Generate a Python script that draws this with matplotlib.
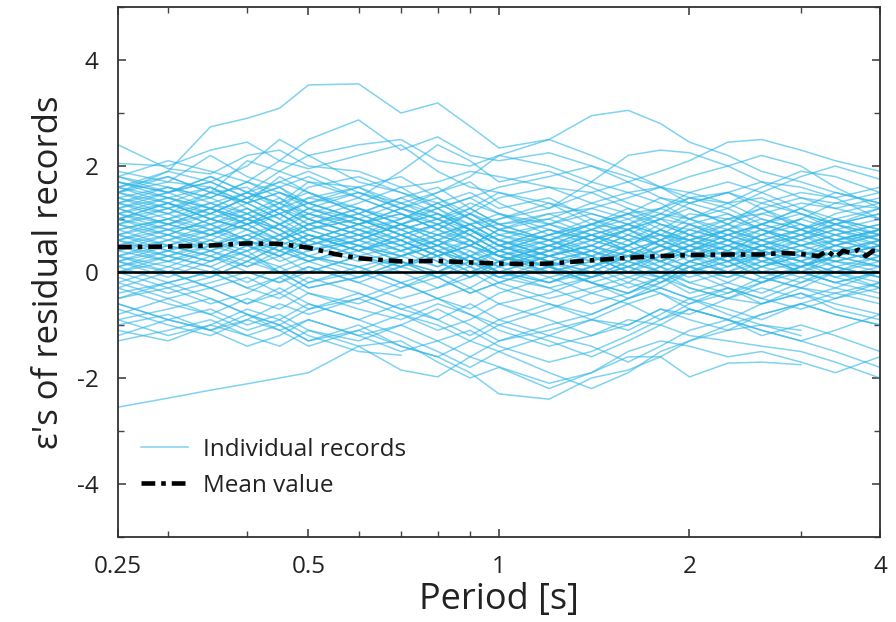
import numpy as np
import matplotlib
matplotlib.use("Agg")
import matplotlib.pyplot as plt
from matplotlib.ticker import FixedLocator, NullFormatter

plt.rcParams['font.family'] = ['Open Sans', 'DejaVu Sans']
plt.rcParams['axes.unicode_minus'] = False

nan = np.nan
periods = [0.25, 0.3, 0.35, 0.4, 0.45, 0.5, 0.6, 0.7, 0.8, 0.9, 1.0,
           1.2, 1.4, 1.6, 1.8, 2.0, 2.3, 2.6, 3.0, 3.4, 4.0]

records_high = [
    [1.5, 1.9, 2.74, 2.9, 3.09, 3.53, 3.55, 3.0, 3.19, 2.75, 2.34, 2.5, 2.2, 1.9, 1.6, 1.4, 1.5, 1.3, 1.1, 0.9, 0.7],
    [1.2, 1.5, 1.7, 2.0, 2.5, 2.2, 2.4, 2.5, 2.1, 2.0, 2.2, 2.5, 2.95, 3.05, 2.8, 2.45, 2.2, 1.9, 1.7, 1.5, 1.3],
    [2.4, 1.95, 1.85, 2.2, 2.3, 2.0, 1.9, 1.6, 1.7, 1.9, 1.8, 1.6, 1.5, 1.7, 1.9, 2.1, 2.45, 2.5, 2.3, 2.1, 1.9],
    [2.05, 2.0, 2.3, 2.45, 2.1, 2.5, 2.87, 2.3, 2.55, 2.2, 2.1, 2.25, 2.0, 1.8, 1.6, 1.5, 1.3, 1.6, 1.9, 1.8, 1.5],
    [1.8, 2.1, 1.9, 1.7, 2.1, 1.95, 2.2, 2.4, 1.9, 1.6, 1.5, 1.2, 1.7, 2.2, 2.3, 2.25, 2.0, 1.7, 1.4, 1.3, 1.2],
    [1.9, 1.7, 2.2, 1.8, 1.6, 1.8, 1.4, 1.9, 2.4, 2.1, 1.7, 1.9, 1.6, 1.3, 1.1, 1.0, 1.2, 1.5, 1.8, 2.0, 1.75],
    [1.6, 1.8, 1.5, 2.1, 1.9, 1.7, 1.6, 1.3, 1.5, 1.8, 2.2, 2.0, 1.7, 1.5, 1.6, 1.8, 2.0, 2.2, 2.0, 1.6, 1.2],
    [1.7, 1.5, 1.8, 1.5, 1.9, 2.2, 1.7, 1.5, 1.2, 1.4, 1.6, 1.8, 2.0, 1.7, 1.4, 1.3, 1.5, 1.7, 1.6, 1.4, 1.0],
]

records_upper = [
    [1.8, 1.6, 1.4, 1.7, 1.5, 1.3, 1.6, 1.2, 1.0, 1.3, 1.1, 0.8, 0.6, 0.9, 1.2, 1.4, 1.3, 1.0, 0.8, 1.1, 1.3],
    [1.5, 1.7, 1.6, 1.3, 1.8, 1.5, 1.1, 1.4, 1.6, 1.2, 0.9, 1.0, 1.3, 1.5, 1.3, 1.0, 0.7, 0.9, 1.2, 1.0, 0.8],
    [1.3, 1.1, 1.5, 1.6, 1.2, 1.6, 1.8, 1.5, 1.3, 1.0, 0.8, 1.1, 1.2, 1.0, 0.7, 0.6, 0.9, 1.3, 1.5, 1.4, 1.6],
    [1.1, 1.4, 1.2, 1.0, 1.3, 1.7, 1.4, 1.1, 0.8, 1.1, 1.4, 1.6, 1.3, 1.1, 1.2, 1.5, 1.7, 1.5, 1.2, 0.9, 0.6],
    [1.6, 1.3, 1.1, 1.4, 1.6, 1.2, 0.9, 1.2, 1.5, 1.7, 1.3, 0.9, 0.7, 0.5, 0.8, 1.1, 1.0, 0.8, 0.6, 0.9, 1.1],
    [0.9, 1.2, 1.5, 1.3, 1.0, 1.4, 1.6, 1.8, 1.4, 1.0, 0.7, 0.5, 0.8, 1.1, 1.4, 1.2, 0.9, 0.7, 1.0, 1.3, 1.5],
    [1.4, 1.6, 1.3, 1.5, 1.2, 0.9, 1.2, 1.0, 1.3, 1.5, 1.2, 1.4, 1.0, 0.7, 0.5, 0.7, 1.0, 1.2, 0.9, 0.7, 0.9],
    [1.2, 0.9, 1.1, 1.4, 1.7, 1.5, 1.2, 0.9, 1.1, 0.8, 0.6, 0.9, 1.2, 1.4, 1.6, 1.3, 1.1, 0.8, 0.5, 0.6, 0.8],
    [1.0, 1.3, 1.0, 0.8, 1.1, 1.3, 1.0, 1.3, 1.1, 0.9, 1.0, 1.2, 1.5, 1.2, 0.9, 0.8, 1.0, 1.1, 1.3, 1.2, 1.4],
    [1.7, 1.4, 1.2, 1.0, 0.8, 1.1, 1.4, 1.1, 0.9, 1.2, 1.5, 1.3, 0.9, 0.8, 1.0, 0.9, 0.6, 0.4, 0.7, 1.0, 0.7],
    [0.8, 1.0, 1.3, 1.1, 1.4, 1.0, 0.7, 1.0, 1.2, 1.4, 1.1, 0.7, 0.9, 1.2, 1.0, 0.7, 0.5, 0.7, 1.0, nan, nan],
    [1.3, 1.5, 1.8, 1.5, 1.3, 1.0, 1.3, 1.6, 1.2, 0.8, 0.9, 1.1, 0.8, 0.6, 0.7, 1.0, 1.3, 1.4, 1.1, 0.8, 0.5],
    [1.1, 0.8, 0.9, 1.2, 0.9, 1.2, 1.5, 1.3, 1.0, 1.2, 0.9, 0.6, 0.4, 0.7, 1.0, 1.3, 1.5, 1.2, 0.8, 0.6, 0.7],
    [1.5, 1.2, 0.9, 1.1, 1.3, 1.5, 1.1, 0.8, 1.0, 0.7, 1.0, 1.3, 1.1, 0.9, 1.1, 1.4, 1.2, 0.9, 1.2, 1.5, 1.3],
    [0.9, 1.1, 0.8, 1.0, 1.2, 0.9, 0.6, 0.9, 0.7, 0.5, 0.8, 0.5, 0.3, 0.6, 0.9, 0.7, 0.4, 0.6, 0.8, 0.6, 0.4],
    [1.4, 1.1, 1.3, 1.0, 0.7, 0.9, 1.2, 0.9, 0.7, 0.9, 0.6, 0.3, 0.5, 0.8, 0.5, 0.2, 0.4, 0.7, 0.5, 0.3, 0.5],
    [0.6, 0.3, 0.6, 0.9, 1.2, 1.0, 0.7, 0.5, 0.8, 1.1, 0.8, 0.6, 0.9, 0.6, 0.3, 0.5, 0.8, 0.6, 0.3, 0.5, 0.7],
    [1.1, 1.3, 1.0, 0.8, 0.5, 0.3, 0.6, 0.9, 1.1, 0.8, 0.5, 0.7, 1.0, 0.8, 0.5, 0.3, 0.6, 0.9, 0.7, 0.4, 0.2],
    [1.6, 1.4, 1.6, 1.2, 0.9, 1.1, 0.8, 0.5, 0.7, 0.5, 0.2, 0.4, 0.7, 0.9, 0.7, 0.4, 0.2, 0.4, 0.2, -0.1, -0.3],
    [0.7, 1.0, 1.2, 1.5, 1.3, 1.1, 0.9, 1.1, 0.8, 0.6, 0.3, 0.1, 0.3, 0.1, 0.4, 0.6, 0.4, 0.1, 0.4, 0.6, 0.8],
    [0.5, 0.8, 1.1, 1.4, 1.1, 0.8, 1.0, 0.7, 0.9, 0.7, 0.4, 0.7, 0.4, 0.2, 0.0, 0.2, 0.0, 0.2, 0.4, 0.2, 0.4],
    [1.5, 1.8, 1.5, 1.3, 1.5, 1.3, 1.0, 0.7, 0.5, 0.8, 0.5, 0.3, 0.1, 0.4, 0.2, 0.5, 0.7, 0.9, 0.7, 0.9, 1.2],
    [1.2, 1.4, 1.1, 0.9, 1.2, 1.4, 1.2, 0.9, 0.6, 0.9, 1.1, 0.9, 0.6, 0.4, 0.6, 0.9, 1.1, 0.8, 0.5, 0.7, 0.9],
    [1.5, 1.3, 1.0, 1.2, 0.9, 0.6, 0.9, 1.2, 1.0, 0.7, 0.4, 0.6, 0.3, 0.5, 0.8, 0.5, 0.2, 0.5, 0.8, 1.0, 0.8],
    [1.7, 1.5, 1.2, 0.9, 1.1, 0.8, 1.1, 1.4, 1.1, 0.8, 0.5, 0.2, 0.4, 0.2, 0.5, 0.8, 0.6, 0.4, 0.2, 0.4, 0.6],
    [1.0, 1.3, 1.6, 1.3, 1.0, 0.7, 0.4, 0.6, 0.3, 0.5, 0.8, 1.0, 0.7, 0.4, 0.2, 0.0, 0.3, 0.6, 0.4, 0.1, -0.1],
    [1.3, 1.6, 1.4, 1.7, 1.4, 1.1, 0.8, 1.0, 1.3, 1.0, 0.7, 0.9, 1.1, 0.9, 0.6, 0.4, 0.6, 0.8, 1.0, 0.8, 0.6],
    [0.9, 0.7, 1.0, 1.3, 1.5, 1.2, 1.0, 0.7, 0.4, 0.2, 0.4, 0.7, 0.9, 1.1, 0.8, 0.6, 0.8, 1.1, 0.9, 0.6, 0.8],
    [1.4, 1.2, 1.4, 1.1, 0.8, 0.5, 0.7, 0.4, 0.6, 0.3, 0.0, 0.3, 0.5, 0.3, 0.0, -0.2, -0.4, -0.2, 0.1, 0.3, 0.1],
    [1.1, 0.9, 1.2, 1.5, 1.7, 1.9, 1.5, 1.2, 0.9, 1.1, 0.8, 0.6, 0.8, 1.0, 1.2, 1.0, 0.8, 0.5, 0.3, nan, nan],
    [1.8, 1.5, 1.7, 1.4, 1.6, 1.3, 1.0, 0.8, 1.0, 0.8, 0.5, 0.8, 0.6, 0.8, 1.0, 1.2, 0.9, 0.6, 0.8, 1.0, 1.2],
    [1.6, 1.9, 1.7, 1.4, 1.1, 1.3, 1.5, 1.2, 1.4, 1.1, 0.9, 0.6, 0.9, 1.1, 0.9, 0.7, 0.9, 1.2, 1.4, 1.2, 1.0],
]

records_mid = [
    [0.6, 0.9, 0.7, 1.0, 0.8, 0.5, 0.8, 0.6, 0.3, 0.5, 0.7, 0.4, 0.2, 0.5, 0.7, 0.6, 0.3, 0.5, 0.7, 0.5, 0.3],
    [0.9, 0.6, 0.8, 0.5, 0.7, 1.0, 0.7, 0.4, 0.6, 0.8, 0.5, 0.2, 0.4, 0.7, 0.5, 0.3, 0.5, 0.8, 0.6, 0.4, 0.6],
    [0.4, 0.7, 1.0, 0.8, 0.5, 0.7, 0.4, 0.6, 0.9, 0.6, 0.3, 0.5, 0.7, 0.4, 0.2, 0.4, 0.7, 0.5, 0.3, 0.5, 0.8],
    [0.7, 0.5, 0.3, 0.6, 0.9, 0.6, 0.3, 0.1, 0.4, 0.2, 0.0, 0.3, 0.6, 0.8, 0.6, 0.4, 0.2, 0.3, 0.5, 0.7, 0.4],
    [1.0, 0.8, 0.6, 0.4, 0.6, 0.9, 1.1, 0.8, 0.5, 0.3, 0.5, 0.8, 0.5, 0.3, 0.4, 0.6, 0.8, 0.6, 0.4, 0.2, 0.1],
    [0.3, 0.5, 0.8, 1.1, 0.8, 0.5, 0.2, 0.4, 0.7, 0.9, 0.6, 0.3, 0.1, 0.3, 0.6, 0.8, 0.6, 0.4, 0.6, 0.8, 1.0],
    [0.5, 0.3, 0.5, 0.7, 0.4, 0.2, 0.5, 0.8, 0.5, 0.2, 0.0, -0.2, 0.1, 0.4, 0.2, 0.0, 0.2, 0.5, 0.3, 0.1, 0.3],
    [0.8, 1.0, 0.7, 0.5, 0.3, 0.6, 0.9, 0.6, 0.3, 0.0, 0.2, 0.5, 0.3, 0.0, -0.1, 0.2, 0.4, 0.2, 0.0, 0.3, 0.5],
    [0.2, 0.4, 0.6, 0.3, 0.6, 0.8, 0.5, 0.2, 0.0, 0.3, 0.6, 0.4, 0.7, 0.9, 0.7, 0.5, 0.3, 0.1, 0.3, 0.6, 0.4],
    [0.6, 0.4, 0.2, 0.5, 0.2, 0.4, 0.7, 0.9, 0.6, 0.4, 0.1, 0.3, 0.5, 0.2, 0.4, 0.7, 0.5, 0.2, 0.1, 0.4, 0.2],
    [1.2, 0.9, 0.7, 0.9, 1.1, 0.8, 0.5, 0.3, 0.5, 0.7, 0.4, 0.1, -0.1, 0.2, 0.5, 0.3, 0.1, 0.3, 0.6, 0.8, 0.6],
    [0.1, 0.3, 0.1, 0.4, 0.7, 0.4, 0.6, 0.3, 0.1, 0.4, 0.2, 0.0, 0.2, 0.5, 0.8, 0.6, 0.4, 0.7, 0.9, 0.7, 0.5],
    [0.7, 0.9, 1.2, 0.9, 0.6, 0.3, 0.1, 0.3, 0.6, 0.3, 0.1, 0.4, 0.6, 0.4, 0.1, -0.1, 0.1, 0.4, 0.2, 0.0, -0.2],
    [0.4, 0.2, 0.4, 0.1, 0.3, 0.6, 0.3, 0.5, 0.2, -0.1, 0.2, 0.5, 0.8, 0.6, 0.3, 0.5, 0.8, 1.0, 0.8, 0.5, 0.3],
    [1.0, 1.2, 0.9, 0.6, 0.4, 0.7, 0.5, 0.2, -0.1, 0.1, 0.4, 0.2, -0.1, 0.1, 0.3, 0.1, -0.1, 0.2, 0.4, nan, nan],
    [0.5, 0.7, 0.4, 0.2, 0.5, 0.3, 0.0, 0.3, 0.5, 0.2, -0.1, 0.1, 0.4, 0.1, -0.1, 0.2, 0.5, 0.3, 0.0, 0.2, 0.4],
    [0.0, 0.2, 0.5, 0.7, 0.5, 0.2, 0.4, 0.7, 0.4, 0.6, 0.3, 0.6, 0.3, 0.0, 0.2, 0.4, 0.2, -0.1, 0.1, 0.3, 0.1],
    [1.3, 1.0, 0.8, 0.6, 0.9, 0.7, 0.4, 0.7, 0.9, 0.6, 0.3, 0.0, 0.2, 0.4, 0.6, 0.9, 0.7, 0.5, 0.7, 0.9, 1.1],
    [0.3, 0.6, 0.4, 0.7, 0.9, 1.2, 0.9, 0.6, 0.3, 0.5, 0.3, 0.0, -0.2, 0.0, 0.3, 0.1, -0.1, 0.1, 0.3, 0.2, 0.0],
    [0.2, -0.1, 0.2, 0.5, 0.3, 0.0, 0.3, 0.1, 0.3, 0.6, 0.3, 0.1, 0.3, 0.0, -0.2, 0.1, 0.3, 0.0, -0.2, 0.0, 0.3],
    [-0.3, 0.0, 0.3, 0.1, 0.4, 0.2, -0.1, 0.1, 0.4, 0.1, -0.2, 0.1, -0.2, -0.4, -0.2, 0.1, -0.2, -0.4, -0.1, 0.1, -0.1],
    [1.0, 0.7, 0.5, 0.8, 0.6, 0.8, 1.0, 0.7, 0.4, 0.1, -0.1, 0.2, 0.0, 0.3, 0.5, 0.3, 0.5, 0.3, 0.0, -0.2, 0.0],
    [0.8, 0.5, 0.7, 1.0, 0.7, 0.4, 0.6, 0.9, 1.2, 0.9, 0.6, 0.3, 0.5, 0.8, 1.1, 0.9, 0.6, 0.3, 0.1, 0.3, 0.5],
    [0.4, 0.6, 0.9, 0.6, 0.3, 0.5, 0.8, 0.5, 0.2, -0.1, 0.1, -0.2, 0.0, 0.3, 0.1, -0.2, 0.0, 0.3, 0.5, 0.3, 0.6],
    [0.0, -0.3, -0.1, 0.2, 0.5, 0.7, 0.4, 0.1, 0.3, 0.0, 0.2, 0.5, 0.2, -0.1, 0.1, 0.4, 0.6, 0.4, 0.1, -0.1, 0.1],
    [0.6, 0.8, 0.5, 0.3, 0.0, 0.2, 0.5, 0.3, 0.5, 0.8, 0.5, 0.2, 0.0, -0.3, -0.1, 0.2, 0.0, -0.2, 0.1, 0.3, 0.5],
    [0.2, 0.5, 0.3, 0.0, -0.2, 0.1, -0.2, 0.1, -0.1, 0.2, 0.4, 0.1, -0.2, -0.4, -0.1, 0.1, 0.3, 0.5, 0.2, 0.0, -0.3],
    [0.7, 0.4, 0.2, 0.4, 0.0, -0.3, -0.1, 0.2, 0.0, 0.3, 0.1, 0.4, 0.7, 0.5, 0.2, 0.4, 0.7, 0.9, 1.1, 0.9, 0.7],
    [0.3, 0.1, 0.4, 0.6, 0.4, 0.6, 0.9, 1.1, 0.8, 0.5, 0.3, 0.1, -0.1, 0.1, 0.3, 0.5, 0.3, 0.0, 0.2, 0.5, 0.7],
    [0.1, 0.4, 0.7, 0.9, 0.6, 0.9, 0.6, 0.4, 0.1, 0.3, 0.0, -0.2, 0.1, 0.3, 0.6, 0.4, 0.1, 0.3, 0.0, -0.2, 0.0],
]

records_lower = [
    [-0.2, 0.1, -0.1, 0.2, 0.0, -0.3, -0.1, 0.2, -0.1, -0.4, -0.2, 0.1, -0.2, -0.5, -0.3, 0.0, 0.2, -0.1, -0.3, 0.0, 0.2],
    [0.1, -0.2, 0.0, -0.3, -0.5, -0.2, 0.1, -0.2, -0.5, -0.3, 0.0, -0.3, -0.6, -0.4, -0.1, -0.3, -0.5, -0.2, 0.0, -0.2, -0.4],
    [-0.5, -0.3, -0.6, -0.4, -0.1, 0.1, -0.2, -0.5, -0.3, 0.0, -0.3, -0.6, -0.8, -0.5, -0.2, 0.0, -0.3, -0.5, -0.2, 0.1, -0.1],
    [-0.3, -0.6, -0.8, -0.5, -0.7, -0.4, -0.7, -0.9, -0.6, -0.8, -1.0, -0.7, -0.4, -0.6, -0.9, -0.6, -0.3, -0.5, -0.7, -0.5, -0.2],
    [-0.8, -0.5, -0.3, -0.6, -0.3, -0.6, -0.9, -0.6, -0.9, -1.2, -0.9, -0.6, -0.9, -1.1, -0.8, -0.5, -0.7, -0.9, -0.6, -0.4, -0.6],
    [0.2, 0.0, -0.3, -0.1, -0.4, -0.7, -0.5, -0.2, -0.5, -0.7, -0.4, -0.1, 0.1, -0.2, -0.4, -0.7, -0.9, -0.6, -0.4, -0.7, -0.9],
    [-1.0, -0.8, -1.1, -0.9, -0.6, -0.8, -0.5, -0.8, -1.1, -0.9, -0.6, -0.9, -1.2, -1.0, -0.7, -0.9, -1.1, -0.8, -0.6, -0.8, -1.0],
    [-0.6, -0.9, -0.7, -1.0, -0.8, -1.1, -1.3, -1.0, -0.7, -1.0, -1.3, -1.0, -0.8, -0.5, -0.3, -0.5, -0.8, -1.0, -1.2, nan, nan],
    [-0.1, -0.4, -0.2, 0.0, -0.2, 0.0, 0.3, 0.0, -0.3, -0.1, 0.2, -0.1, -0.4, -0.2, 0.1, 0.3, 0.0, -0.2, 0.1, 0.4, 0.2],
    [-1.3, -1.1, -0.9, -1.2, -1.0, -1.3, -1.0, -1.4, -1.6, -1.3, -1.0, -1.3, -1.6, -1.3, -1.0, -0.7, -0.9, -1.2, -1.0, -1.2, -1.5],
    [-0.4, -0.2, -0.5, -0.8, -1.0, -0.7, -0.4, -0.7, -0.9, -0.6, -0.9, -1.2, -0.9, -0.6, -0.4, -0.6, -0.4, -0.1, -0.3, -0.5, -0.3],
    [-0.9, -1.2, -1.0, -0.7, -0.9, -1.2, -1.5, -1.57, nan, nan, nan, nan, nan, nan, nan, nan, nan, nan, nan, nan, nan],
    [0.0, 0.3, 0.1, -0.2, 0.1, 0.3, 0.1, -0.2, 0.0, -0.3, -0.6, -0.4, -0.1, 0.1, -0.1, -0.4, -0.2, 0.1, -0.1, -0.3, 0.0],
    [-0.7, -1.0, -1.2, -0.9, -1.1, -1.4, -1.1, -0.8, -1.0, -1.3, -1.5, -1.2, -1.4, -1.7, -1.4, -1.1, -0.9, -1.1, -1.3, -1.1, -0.8],
    [0.5, 0.2, 0.0, 0.3, 0.1, -0.2, 0.0, -0.3, -0.1, -0.4, -0.2, -0.5, -0.3, -0.1, -0.3, -0.5, -0.3, -0.6, -0.4, -0.6, -0.8],
    [-0.5, -0.2, 0.0, -0.3, -0.1, -0.4, -0.6, -0.3, 0.0, 0.2, -0.1, -0.3, -0.1, 0.2, 0.0, -0.3, -0.5, -0.3, -0.5, -0.3, -0.5],
]

records_low = [
    [-2.55, -2.38, -2.23, -2.11, -2.0, -1.9, -1.4, -1.85, -1.98, -1.6, -1.3, -1.1, -0.9, -1.0, -0.7, -0.8, -0.5, -0.6, -0.3, -0.4, -0.2],
    [-0.6, -0.9, -1.1, -0.8, -1.0, -1.3, -1.1, -1.4, -1.6, -1.9, -2.3, -2.4, -2.0, -1.85, -1.6, -1.3, -1.0, -0.8, -0.6, -0.8, -1.0],
    [-1.2, -0.9, -1.1, -1.4, -1.2, -0.9, -1.2, -1.5, -1.3, -1.6, -1.79, -2.1, -1.9, -1.6, -1.6, -1.98, -1.72, -1.7, -1.75, nan, nan],
    [0.3, 0.0, -0.3, -0.6, -0.4, -0.1, -0.4, -0.7, -0.5, -0.8, -1.1, -1.4, -1.2, -0.9, -1.0, -1.2, -1.3, -1.4, -1.5, -1.7, -2.0],
    [-1.1, -1.3, -1.0, -1.2, -1.4, -1.1, -1.4, -1.3, -1.7, -2.0, -1.8, -2.2, -1.9, -1.5, -1.3, -1.4, -1.6, -1.5, -1.7, -1.9, -1.6],
    [-0.2, -0.5, -0.8, -1.1, -0.9, -0.6, -0.9, -1.2, -1.5, -1.8, -1.5, -1.9, -2.2, -1.9, -1.5, -1.3, -1.1, -1.0, -1.1, nan, nan],
    [-0.9, -0.7, -0.5, -0.8, -1.1, -0.9, -1.2, -1.0, -1.3, -1.1, -1.4, -1.7, -1.5, -1.2, -0.9, -0.7, -0.9, -1.1, -1.3, -1.5, -1.8],
]

mean_periods = [0.25, 0.3, 0.35, 0.4, 0.45, 0.5, 0.55, 0.6, 0.7, 0.8, 0.9, 1.0, 1.1,
                1.2, 1.4, 1.6, 1.8, 2.0, 2.3, 2.6, 2.8, 3.0, 3.2, 3.3, 3.4, 3.5,
                3.6, 3.7, 3.8, 3.9, 4.0]
mean_values = [0.47, 0.48, 0.50, 0.54, 0.53, 0.46, 0.34, 0.26, 0.20, 0.21, 0.18, 0.16, 0.15,
               0.16, 0.22, 0.27, 0.30, 0.32, 0.33, 0.33, 0.36, 0.34, 0.30, 0.40, 0.28, 0.40,
               0.36, 0.42, 0.30, 0.40, 0.38]

all_records = records_high + records_upper + records_mid + records_lower + records_low

fig = plt.figure(figsize=(8.96, 6.22), dpi=100)
ax = fig.add_axes([0.1317, 0.1367, 0.8504, 0.852])

line_color = '#2BB5E6'
for i, rec in enumerate(all_records):
    ax.plot(periods, rec, color=line_color, alpha=0.6, lw=1.1,
            label='Individual records' if i == 0 else None, zorder=2)

ax.axhline(0, color='black', lw=1.9, zorder=3)
ax.plot(mean_periods, mean_values, color='black', lw=3.3,
        linestyle=(0, (3, 1.3, 1, 1.3)), label='Mean value', zorder=4)

ax.set_xscale('log')
ax.set_xlim(0.25, 4)
ax.set_ylim(-5, 5)
ax.xaxis.set_major_locator(FixedLocator([0.25, 0.5, 1, 2, 4]))
ax.xaxis.set_minor_locator(FixedLocator([0.3, 0.4, 0.6, 0.7, 0.8, 0.9, 3]))
ax.xaxis.set_minor_formatter(NullFormatter())
ax.set_xticklabels(['0.25', '0.5', '1', '2', '4'])
ax.yaxis.set_major_locator(FixedLocator([-4, -2, 0, 2, 4]))
ax.yaxis.set_minor_locator(FixedLocator([-5, -3, -1, 1, 3, 5]))
ax.tick_params(which='both', direction='in', top=True, right=True,
               color='#444444', labelsize=17.5, labelcolor='#222222')
ax.tick_params(which='major', length=6, width=1.2)
ax.tick_params(which='minor', length=4, width=1.0)
ax.tick_params(axis='x', which='major', pad=13)
ax.tick_params(axis='y', which='major', pad=14)
for s in ax.spines.values():
    s.set_linewidth(1.3)
    s.set_color('#333333')

ax.set_xlabel('Period [s]', fontsize=26, color='#222222', labelpad=2)
ax.set_ylabel("\u03b5's of residual records", fontsize=25, color='#222222', labelpad=8)

leg = ax.legend(loc='upper left', bbox_to_anchor=(0.03, 0.187), frameon=False,
                fontsize=17.5, handlelength=1.93, handletextpad=0.62,
                labelspacing=0.48, borderpad=0, borderaxespad=0)
for t in leg.get_texts():
    t.set_color('#222222')

fig.savefig('out.png', dpi=100)
